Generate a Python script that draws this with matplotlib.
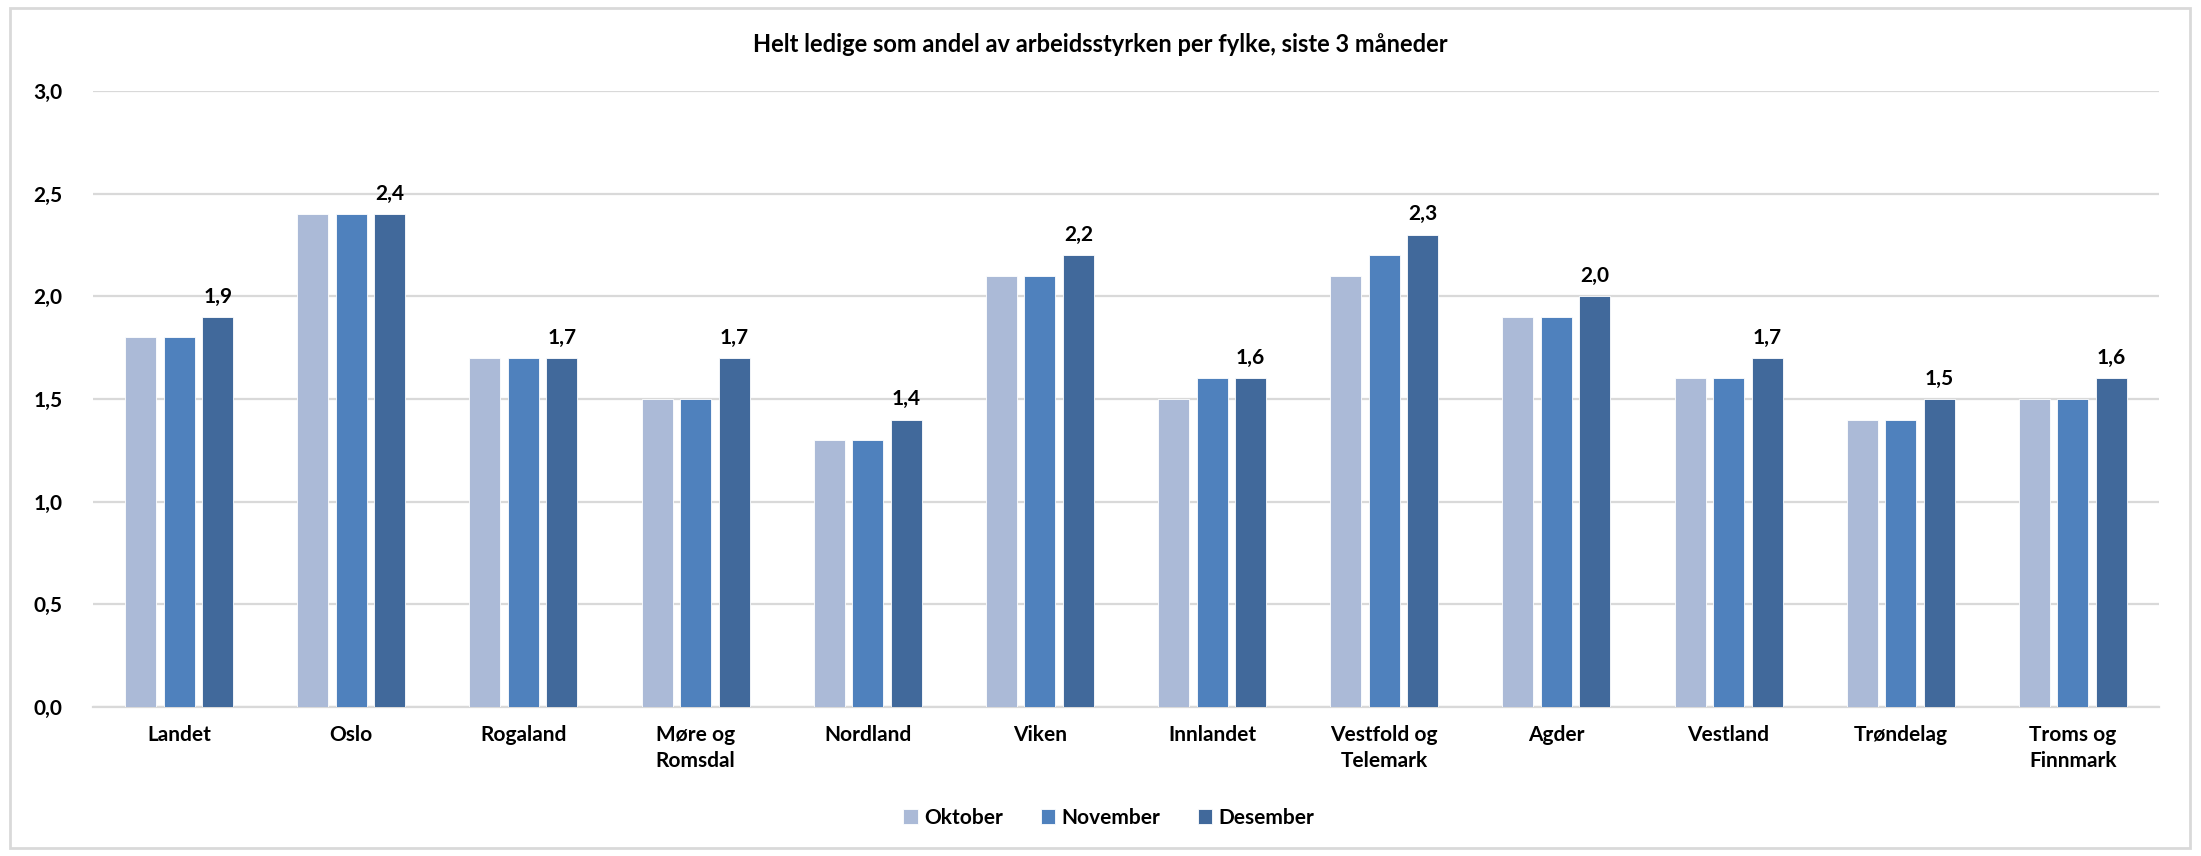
import numpy as np
import matplotlib.pyplot as plt
from matplotlib.patches import Rectangle

fylker = ["Landet", "Oslo", "Rogaland", "Møre og\nRomsdal", "Nordland", "Viken",
          "Innlandet", "Vestfold og\nTelemark", "Agder", "Vestland", "Trøndelag",
          "Troms og\nFinnmark"]
oktober = [1.8, 2.4, 1.7, 1.5, 1.3, 2.1, 1.5, 2.1, 1.9, 1.6, 1.4, 1.5]
november = [1.8, 2.4, 1.7, 1.5, 1.3, 2.1, 1.6, 2.2, 1.9, 1.6, 1.4, 1.5]
desember = [1.9, 2.4, 1.7, 1.7, 1.4, 2.2, 1.6, 2.3, 2.0, 1.7, 1.5, 1.6]
maaneder = ["Oktober", "November", "Desember"]
farger = ["#ABBAD7", "#4F81BD", "#41699B"]
yticks = [0.0, 0.5, 1.0, 1.5, 2.0, 2.5, 3.0]

plt.rcParams["font.family"] = ["Lato", "DejaVu Sans"]
plt.rcParams["font.weight"] = "bold"

W, H = 2201, 856
fig = plt.figure(figsize=(W / 100, H / 100), dpi=100)
ax = fig.add_axes([93 / W, 1 - 707 / H, (2159 - 93) / W, (707 - 91) / H])

# ramme rundt hele diagrammet
fig.patches.append(Rectangle((10 / W, 8 / H), (2190 - 10) / W, (848 - 8) / H,
                             transform=fig.transFigure, fill=False,
                             edgecolor="#D9D9D9", linewidth=2))

x = np.arange(len(fylker))
bw, step = 0.18, 0.224
for i, (vals, lab, c) in enumerate(zip([oktober, november, desember], maaneder, farger)):
    bars = ax.bar(x + (i - 1) * step, vals, width=bw, color=c, label=lab,
                  edgecolor="white", linewidth=0.6, zorder=3)
    if i == 2:
        for b, v in zip(bars, vals):
            ax.text(b.get_x() + b.get_width() / 2, v + 0.05, f"{v:.1f}".replace(".", ","),
                    ha="center", va="bottom", fontsize=15, fontweight="bold")

ax.set_xlim(-0.5, len(fylker) - 0.5)
ax.set_ylim(0, 3.0)
ax.set_yticks(yticks)
ax.set_yticklabels([f"{t:.1f}".replace(".", ",") for t in yticks], fontsize=15, fontweight="bold")
ax.set_xticks(x)
ax.set_xticklabels(fylker, fontsize=15, fontweight="bold", linespacing=1.4)
ax.tick_params(axis="both", length=0)
ax.tick_params(axis="y", pad=22)
ax.tick_params(axis="x", pad=13)
ax.grid(axis="y", color="#D9D9D9", linewidth=1.6, zorder=0)
for s in ["top", "right", "left"]:
    ax.spines[s].set_visible(False)
ax.spines["bottom"].set_color("#D9D9D9")
ax.spines["bottom"].set_linewidth(1.6)

fig.text(0.5, 1 - 45 / H, "Helt ledige som andel av arbeidsstyrken per fylke, siste 3 måneder",
         ha="center", va="center", fontsize=17, fontweight="bold")

fig.legend(loc="center", bbox_to_anchor=(1109 / W, 1 - 818 / H), ncol=3, frameon=False,
           fontsize=15, handlelength=0.7, handleheight=0.7, handletextpad=0.3,
           columnspacing=1.8)

fig.savefig("out.png", dpi=100)
